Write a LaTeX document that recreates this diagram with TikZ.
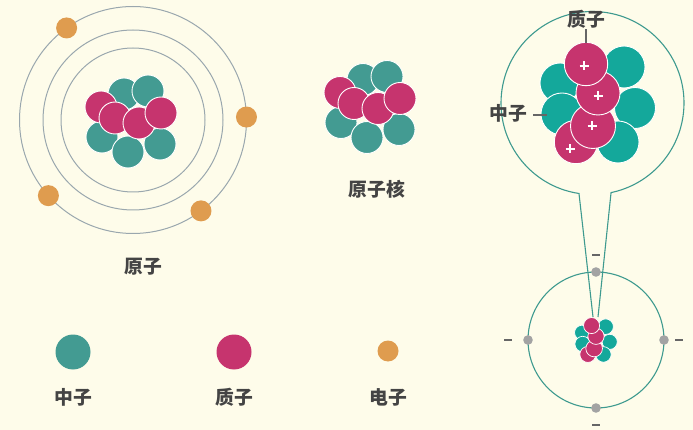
\documentclass[tikz,border=0pt]{standalone}
\usepackage{fontspec}
\usetikzlibrary{calc}
\newfontfamily\cjk{Noto Sans CJK SC}
\definecolor{bg}{HTML}{FEFCEA}
\definecolor{neutA}{HTML}{439B92}
\definecolor{neutB}{HTML}{14A89B}
\definecolor{prot}{HTML}{C6346E}
\definecolor{elec}{HTML}{DF9C4F}
\definecolor{orbit}{HTML}{9AA7AE}
\definecolor{lens}{HTML}{3E9A8F}
\definecolor{ink}{HTML}{444444}
\definecolor{dotgray}{HTML}{A3A3A3}
\definecolor{leadgray}{HTML}{666666}

\begin{document}
\begin{tikzpicture}[x=1pt,y=-1pt,
  lbl/.style={font=\cjk\bfseries\fontsize{18.8}{22}\selectfont, text=ink, inner sep=0pt},
  ball/.style={draw=white, line width=0.9pt},
  orbitline/.style={draw=orbit, line width=1pt},
  lensline/.style={draw=lens, line width=1.1pt},
  leader/.style={draw=leadgray, line width=1.2pt},
  minus/.style={draw=leadgray, line width=2.2pt},
  plus/.style={draw=white, line width=1.3pt}
]
\fill[bg] (0,0) rectangle (693,430);
\useasboundingbox (0,0) rectangle (693,430);

% ---------- atom with three orbits ----------
\coordinate (atom) at (133,120);
\foreach \r in {72,90,113.5}
  \draw[orbitline] (atom) circle[radius=\r];
\foreach \a in {234.2,-1.5,138.2,53.2}
  \fill[elec] ($(atom)+(\a:113.5)$) circle[radius=10.5];

% small nucleus cluster (used twice)
\foreach \cx/\cy in {131/122,370/107.5}{
  \begin{scope}[shift={(\cx,\cy)}]
    \foreach \p in {(-7,-28),(17,-31),(-29,15),(-3,30),(29,22)}
      \filldraw[ball, fill=neutA] \p circle[radius=16];
    \foreach \p in {(-30,-15),(-16,-4),(8,1),(30,-9)}
      \filldraw[ball, fill=prot] \p circle[radius=16];
  \end{scope}
}
\node[lbl] (atomlbl) at (143,267) {原子};
\node[lbl] (nuclbl) at (377,189) {原子核};

% ---------- legend ----------
\fill[neutA] (73,352) circle[radius=17.5];
\fill[prot] (234,352) circle[radius=17.5];
\fill[elec] (388,351) circle[radius=10.5];
\node[lbl] (legN) at (73,397) {中子};
\node[lbl] (legP) at (234,397) {质子};
\node[lbl] (legE) at (388,397) {电子};

% ---------- magnified nucleus ----------
\coordinate (lens) at (592.5,103);
\coordinate (small) at (596,340);
\coordinate (tipL) at (593,317);
\coordinate (tipR) at (598,317);
\draw[lensline] (tipL) -- ($(lens)+(98.5:91.5)$)
  arc[start angle=98.5, end angle=438.3, radius=91.5] -- (tipR);

\begin{scope}[shift={(598,103)}]
  \foreach \p/\r in {(26,-36)/21,(37,5)/20.5,(20,39)/21,(-38,-20)/20,(-36,11)/21}
    \filldraw[ball, fill=neutB] \p circle[radius=\r];
  \foreach \p/\r in {(-22,39)/21.7,(-5,23)/22.5,(0,-10)/22,(-12,-39)/21.7}
    \filldraw[ball, fill=prot] \p circle[radius=\r];
  \foreach \p in {(-14,-37),(0,-7),(-6,23),(-28,46)}
    \draw[plus] \p ++(-4.5,0) -- ++(9,0) \p ++(0,-4.5) -- ++(0,9);
\end{scope}

\node[lbl] (topP) at (586,19) {质子};
\coordinate (topPtip) at (586,43);
\draw[leader] ([yshift=-1pt]topP.south) -- (topPtip);
\node[lbl] (sideN) at (508,113) {中子};
\coordinate (sideNtip) at (547,115);
\draw[leader] ([xshift=6pt,yshift=-2pt]sideN.east) -- (sideNtip);

% ---------- small atom ----------
\draw[lensline] (small) circle[radius=68];
\foreach \a in {0,90,180,270}
  \fill[dotgray] ($(small)+(\a:68)$) circle[radius=4.8];
\foreach \p in {(596,255),(596,425),(508,340),(679,340)}
  \draw[minus] \p ++(-3.8,0) -- ++(7.6,0);

\begin{scope}[shift={(596,340)}, scale=0.37]
  \foreach \p/\r in {(26,-36)/21,(37,5)/20.5,(20,39)/21,(-38,-20)/20,(-36,11)/21}
    \filldraw[ball, fill=neutB, line width=0.7pt] \p circle[radius=\r];
  \foreach \p/\r in {(-22,39)/21.7,(-5,23)/22.5,(0,-10)/22,(-12,-39)/21.7}
    \filldraw[ball, fill=prot, line width=0.7pt] \p circle[radius=\r];
\end{scope}
\end{tikzpicture}
\end{document}
